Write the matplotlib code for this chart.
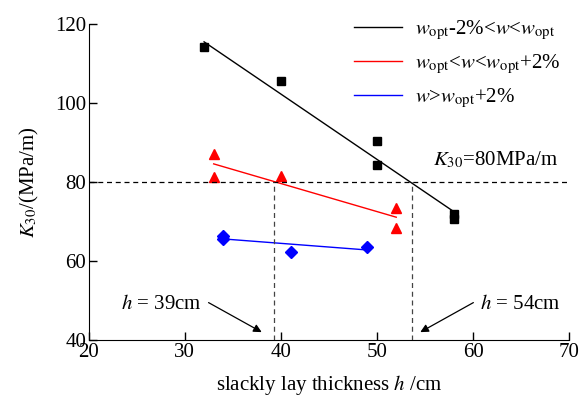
import numpy as np
import matplotlib
matplotlib.use('Agg')
import matplotlib.pyplot as plt

plt.rcParams['font.family'] = ['Liberation Serif', 'DejaVu Serif']
plt.rcParams['mathtext.fontset'] = 'stix'

# measured points
h_black = [32, 40, 50, 50, 58, 58]
k_black = [114.3, 105.5, 90.3, 84.2, 72.0, 70.6]
h_red = [33, 33, 40, 52, 52]
k_red = [87.2, 81.3, 81.5, 73.5, 68.3]
h_blue = [34, 34, 41, 49]
k_blue = [66.4, 65.6, 62.4, 63.5]

# fitted lines (end points)
fit_black_h = [32, 58]
fit_black_k = [115.5, 72.5]
fit_red_h = [33, 52]
fit_red_k = [84.6, 71.1]
fit_blue_h = [34, 49]
fit_blue_k = [65.6, 62.8]

k_limit = 80
h_cross = [39.3, 53.6]

labels = [r'$w_{\rm opt}$-2%<$w$<$w_{\rm opt}$',
          r'$w_{\rm opt}$<$w$<$w_{\rm opt}$+2%',
          r'$w$>$w_{\rm opt}$+2%']

fig = plt.figure(figsize=(5.88, 4.01), dpi=100)
ax = fig.add_axes([0.151, 0.152, 0.817, 0.788])

l1, = ax.plot(fit_black_h, fit_black_k, color='black', lw=1)
l2, = ax.plot(fit_red_h, fit_red_k, color='red', lw=1)
l3, = ax.plot(fit_blue_h, fit_blue_k, color='blue', lw=1)
ax.plot(h_black, k_black, 's', color='black', ms=6, ls='none')
ax.plot(h_red, k_red, '^', color='red', ms=7.5, ls='none')
ax.plot(h_blue, k_blue, 'D', color='blue', ms=6, ls='none')

ax.plot([20, 70], [k_limit, k_limit], color='black', lw=0.9, ls=(0, (4, 3)))
for hc in h_cross:
    ax.plot([hc, hc], [40, k_limit], color='#444444', lw=0.9, ls=(0, (4, 3)))

ax.legend([l1, l2, l3], labels, loc='upper right', bbox_to_anchor=(1.02, 1.075),
          frameon=False, fontsize=15, handlelength=2.3, labelspacing=0.5,
          handletextpad=0.6)

ax.text(55.8, 85.5, r'$K_{30}$=80MPa/m', fontsize=15, va='center')
ax.annotate(r'$h$ = 39cm', xy=(38.0, 42.0), xytext=(23.4, 49.0), fontsize=15,
            va='center', arrowprops=dict(arrowstyle='-|>', color='black', lw=0.9,
                                         shrinkA=0, shrinkB=0,
                                         relpos=(1.08, 0.6), mutation_scale=12))
ax.annotate(r'$h$ = 54cm', xy=(54.5, 42.0), xytext=(60.7, 49.0), fontsize=15,
            va='center', arrowprops=dict(arrowstyle='-|>', color='black', lw=0.9,
                                         shrinkA=0, shrinkB=0,
                                         relpos=(-0.08, 0.6), mutation_scale=12))

ax.set_xlim(20, 70)
ax.set_ylim(40, 120)
ax.set_xticks([20, 30, 40, 50, 60, 70])
ax.set_yticks([40, 60, 80, 100, 120])
ax.spines['top'].set_visible(False)
ax.spines['right'].set_visible(False)
ax.tick_params(direction='in', length=6, width=1, labelsize=15, pad=2)
ax.set_xlabel(r'slackly lay thickness $h$ /cm', fontsize=15, labelpad=8)
ax.set_ylabel(r'$K_{30}$/(MPa/m)', fontsize=15, labelpad=10)

fig.savefig('out.png', dpi=100)
